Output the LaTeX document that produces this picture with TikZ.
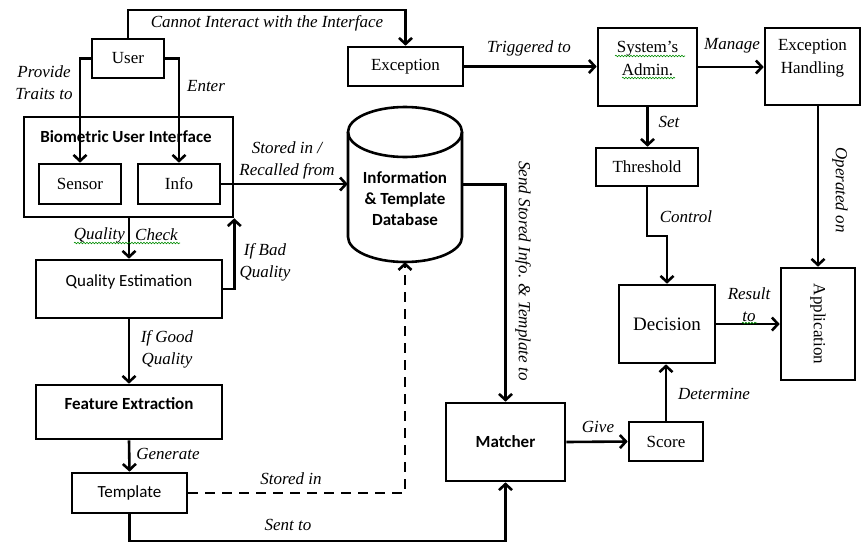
\documentclass[tikz,border=0pt]{standalone}
\usepackage{fontspec}
\setmainfont{Liberation Serif}
\newfontfamily\calfont{Carlito}
\usetikzlibrary{arrows.meta,decorations.pathmorphing}
\begin{document}
\begin{tikzpicture}[x=1pt,y=-1pt,
  box/.style={draw,line width=2.6pt,inner sep=0pt,font=\fontsize{17}{22}\selectfont},
  cbox/.style={box,font=\calfont\fontsize{17}{21}\selectfont},
  txt/.style={inner sep=0pt,align=center,font=\fontsize{17}{23}\selectfont},
  ctxt/.style={inner sep=0pt,align=center,font=\calfont\fontsize{17}{21}\selectfont},
  lab/.style={font=\fontsize{17}{22}\selectfont\itshape,inner sep=0pt,align=center},
  ln/.style={line width=2.6pt},
  arr/.style={ln,-{Straight Barb[length=6pt,width=13pt,line width=2.6pt]}},
  wavy/.style={draw=green!55!black,line width=0.6pt,decorate,decoration={snake,amplitude=0.8pt,segment length=3pt}}]
\useasboundingbox (0,0) rectangle (861,544);
% nodes
\node[box,minimum width=72pt,minimum height=39pt] (user) at (128,58.5) {User};
\node[box,minimum width=115pt,minimum height=39pt] (exc) at (405.5,66.5) {Exception};
\node[box,minimum width=209pt,minimum height=100pt] (bui) at (128.5,167) {};
\node[ctxt,font=\calfont\bfseries\fontsize{17}{21}\selectfont] (buit) at (126,137) {Biometric User Interface};
\node[box,minimum width=82pt,minimum height=40pt] (sensor) at (80,184) {Sensor};
\node[box,minimum width=82pt,minimum height=40pt] (info) at (179,184) {Info};
% database cylinder
\node[minimum width=114pt,minimum height=155pt,inner sep=0pt] (db) at (405,184.5) {};
\draw[ln] (405,132) ellipse [x radius=57pt,y radius=25pt];
\draw[ln] (348,132) -- (348,237) arc[start angle=180,end angle=360,x radius=57pt,y radius=25pt] -- (462,132);
\node[ctxt,font=\calfont\bfseries\fontsize{17}{21}\selectfont] (dbt) at (405,199) {Information\\\& Template\\Database};
\node[box,minimum width=99pt,minimum height=78pt] (admin) at (647.5,67) {};
\node[txt] (admint) at (647.5,58.5) {System's\\Admin.};
\node[box,minimum width=95pt,minimum height=77pt] (eh) at (812.5,66.5) {};
\node[txt] (eht) at (812.5,58) {Exception\\Handling};
\node[box,minimum width=102pt,minimum height=38pt] (thr) at (647,167) {Threshold};
\node[box,minimum width=96pt,minimum height=78pt,font=\fontsize{19}{23}\selectfont] (dec) at (667,324) {Decision};
\node[box,minimum width=74pt,minimum height=112pt] (app) at (818,324) {};
\node[txt,rotate=-90] (appt) at (818,324) {Application};
\node[box,minimum width=74pt,minimum height=39pt] (score) at (666,441.5) {Score};
\node[cbox,minimum width=119pt,minimum height=78pt,font=\calfont\bfseries\fontsize{17}{21}\selectfont] (matcher) at (505.5,442) {Matcher};
\node[box,minimum width=186pt,minimum height=58pt] (qe) at (129,289) {};
\node[ctxt] (qet) at (129,282) {Quality Estimation};
\node[box,minimum width=186pt,minimum height=54pt] (fe) at (129,412) {};
\node[ctxt,font=\calfont\bfseries\fontsize{17}{21}\selectfont] (fet) at (129,404) {Feature Extraction};
\node[cbox,minimum width=115pt,minimum height=40pt] (tmpl) at (129.5,493) {Template};
% helper coordinates
\coordinate (top) at (300,10);
\coordinate (bot) at (300,541);
\coordinate (bend) at (657,236);
% connectors
\draw[arr] (user.north) |- (top) -| (exc.north);
\draw[arr] (user.west) -| (sensor.north);
\draw[arr] (user.east) -| (info.north);
\draw[arr] (info.east) -- (info.east -| db.west);
\draw[arr] (qe.north |- bui.south) -- (qe.north);
\draw[arr] (qe.east) -| (bui.south east);
\draw[arr] (qe.south) -- (fe.north);
\draw[arr] (fe.south) -- (tmpl.north);
\draw[arr,dash pattern=on 10pt off 7pt] (tmpl.east) -| (db.south);
\draw[arr] (tmpl.south) |- (bot) -| (matcher.south);
\draw[arr] (db.east) -| (matcher.north);
\draw[arr] (matcher.east) -- (score.west);
\draw[arr] (score.north) -- (score.north |- dec.south);
\draw[arr] (thr.south) |- (bend) -| (dec.north);
\draw[arr] (exc.east) -- (exc.east -| admin.west);
\draw[arr] (admin.east) -- (admin.east -| eh.west);
\draw[arr] (admin.south) -- (admin.south |- thr.north);
\draw[arr] (app.north |- eh.south) -- (app.north);
\draw[arr] (dec.east) -- (dec.east -| app.west);
% labels
\node[lab] (l1) at (267,23) {Cannot Interact with the Interface};
\node[lab] (l2) at (44,83) {Provide\\Traits to};
\node[lab] (l3) at (206,86) {Enter};
\node[lab] (l4) at (287,160.5) {Stored in /\\Recalled from};
\node[lab,anchor=east] (l5a) at (125,235) {Quality};
\node[lab,anchor=west] (l5b) at (135,235) {Check};
\node[lab] (l6) at (265,262) {If Bad\\Quality};
\node[lab] (l7) at (167,349) {If Good\\Quality};
\node[lab] (l8) at (168,454) {Generate};
\node[lab] (l9) at (291,479) {Stored in};
\node[lab] (l10) at (288,525) {Sent to};
\node[lab,rotate=-90] (l11) at (523,271) {Send Stored Info. \& Template to};
\node[lab] (l12) at (598,427) {Give};
\node[lab] (l13) at (714,394) {Determine};
\node[lab] (l14) at (749,305) {Result\\to};
\node[lab] (l15) at (686,217) {Control};
\node[lab] (l16) at (669,122) {Set};
\node[lab] (l17) at (529,48) {Triggered to};
\node[lab] (l18) at (732,46) {Manage};
\node[lab,rotate=-90] (l19) at (840,190) {Operated on};
% spell-check underlines
\draw[wavy] (74,243) -- (180,243);
\draw[wavy] (615,56) -- (685,56);
\draw[wavy] (622,78) -- (675,78);
\draw[wavy] (742,323) -- (757,323);
\end{tikzpicture}
\end{document}
